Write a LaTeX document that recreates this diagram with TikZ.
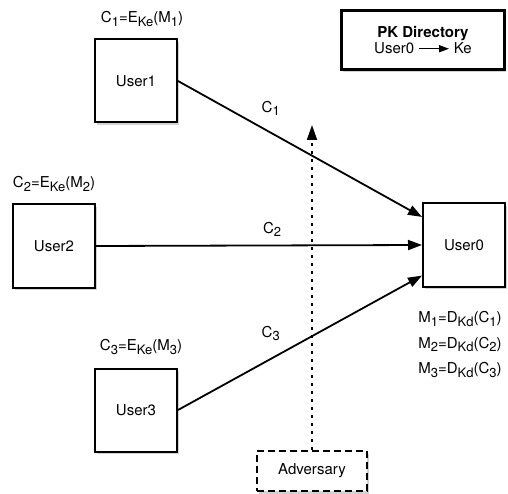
\documentclass[tikz,border=0pt]{standalone}
\usepackage{fontspec}
\setmainfont{TeX Gyre Heros}
\usepackage{tikz}
\usetikzlibrary{arrows.meta,positioning,shadows,calc}

\newcommand{\lowsub}[1]{\raisebox{-3.5pt}{\fontsize{13}{15}\selectfont #1}}

\begin{document}
\begin{tikzpicture}[x=1pt, y=-1pt,
    font=\fontsize{15}{17}\selectfont,
    userbox/.style={rectangle, draw, fill=white, line width=2pt, minimum width=82pt, minimum height=83pt,
        drop shadow={shadow xshift=1.5pt, shadow yshift=-2.5pt, opacity=0.35}},
    msg/.style={-{Triangle[length=14pt, width=10pt]}, line width=1.8pt},
    eqn/.style={inner sep=1pt, font=\fontsize{15}{17}\selectfont}
]
    \useasboundingbox (0,0) rectangle (508,494);

    % Users
    \node[userbox] (user1) at (136,81) {User1};
    \node[userbox] (user2) at (54,246) {User2};
    \node[userbox] (user3) at (136,410) {User3};
    \node[userbox] (user0) at (464,245) {User0};

    % PK directory
    \node[rectangle, draw, fill=white, line width=3pt, minimum width=163pt, minimum height=59pt, align=center,
        drop shadow={shadow xshift=1.5pt, shadow yshift=-2.5pt, opacity=0.35}] (pkdir) at (423,40)
        {\textbf{PK Directory}\\[-1pt]
         User0 \tikz[baseline=-0.6ex]\draw[-{Triangle[length=10pt, width=7pt]}, line width=1.3pt] (0,0) -- (30,0); Ke};

    % Adversary
    \node[rectangle, draw, fill=white, line width=1.8pt, dash pattern=on 7pt off 4pt, minimum width=110pt, minimum height=40pt,
        drop shadow={shadow xshift=1.5pt, shadow yshift=-2.5pt, opacity=0.35}] (adv) at (312,471) {Adversary};

    % Encryptions
    \node[eqn, above=11pt of user1, xshift=6pt] (enc1) {C\lowsub{1}=E\lowsub{Ke}(M\lowsub{1})};
    \node[eqn, above=11pt of user2] (enc2) {C\lowsub{2}=E\lowsub{Ke}(M\lowsub{2})};
    \node[eqn, above=12pt of user3, xshift=5pt] (enc3) {C\lowsub{3}=E\lowsub{Ke}(M\lowsub{3})};

    % Decryptions
    \node[eqn, below=23pt of user0, xshift=-4pt] (dec1) {M\lowsub{1}=D\lowsub{Kd}(C\lowsub{1})};
    \node[eqn, below=8pt of dec1] (dec2) {M\lowsub{2}=D\lowsub{Kd}(C\lowsub{2})};
    \node[eqn, below=8pt of dec2] (dec3) {M\lowsub{3}=D\lowsub{Kd}(C\lowsub{3})};

    % Messages
    \coordinate (in1) at ($(user0.north west)!0.17!(user0.south west)$);
    \coordinate (in3) at ($(user0.north west)!0.86!(user0.south west)$);
    \draw[msg] (user1.east) -- node[eqn, pos=0.38, above=15pt] (c1) {C\lowsub{1}} (in1);
    \draw[msg] (user2.east) -- node[eqn, pos=0.54, above=7pt] (c2) {C\lowsub{2}} (user0.west);
    \draw[msg] (user3.east) -- node[eqn, pos=0.38, above=16pt] (c3) {C\lowsub{3}} (in3);

    % Eavesdropping
    \coordinate (tap) at (adv.north |- 0,125);
    \draw[-{Triangle[length=15pt, width=10pt]}, line width=1.8pt, dash pattern=on 3pt off 5pt] (adv.north) -- (tap);
\end{tikzpicture}
\end{document}
